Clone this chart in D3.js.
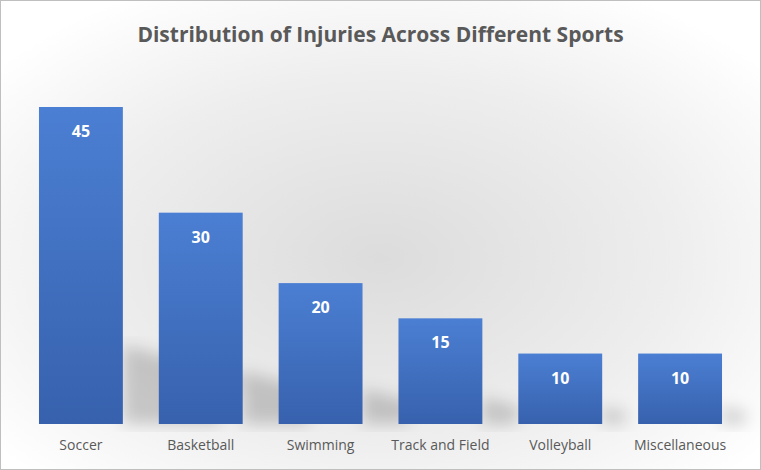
<!DOCTYPE html>
<html><head><meta charset="utf-8">
<script src="https://cdn.jsdelivr.net/npm/d3@7"></script>
<style>body{margin:0;background:#fff}svg{display:block}</style>
</head><body>
<script>
const categories = ["Soccer","Basketball","Swimming","Track and Field","Volleyball","Miscellaneous"];
const injuries = [45,30,20,15,10,10];
const title = "Distribution of Injuries Across Different Sports";

const W=761,H=470;
const svg=d3.select("body").append("svg").attr("width",W).attr("height",H);
const defs=svg.append("defs");
const bg=defs.append("radialGradient").attr("id","bg").attr("cx","50%").attr("cy","55%").attr("r","65%");
bg.append("stop").attr("offset","0%").attr("stop-color","#dcdcdc");
bg.append("stop").attr("offset","60%").attr("stop-color","#eeeeee");
bg.append("stop").attr("offset","100%").attr("stop-color","#ffffff");
const bar=defs.append("linearGradient").attr("id","bar").attr("x1",0).attr("y1",0).attr("x2",0).attr("y2",1);
bar.append("stop").attr("offset","0%").attr("stop-color","#4b7fd3");
bar.append("stop").attr("offset","100%").attr("stop-color","#3761ad");
defs.append("filter").attr("id","blur").append("feGaussianBlur").attr("stdDeviation",8);

svg.append("rect").attr("x",0.5).attr("y",0.5).attr("width",W-1).attr("height",H-1)
  .attr("fill","url(#bg)").attr("stroke","#bfbfbf");

svg.append("text").attr("x",W/2).attr("y",42).attr("text-anchor","middle")
  .attr("font-family","Open Sans, sans-serif").attr("font-weight","bold").attr("font-size",21)
  .attr("fill","#595959").text(title);

const x=d3.scaleBand().domain(categories).range([21,740]).paddingInner(0.3).paddingOuter(0.15);
const y=d3.scaleLinear().domain([0,45]).range([424,107]);

svg.append("g").attr("filter","url(#blur)").selectAll("path").data(injuries).join("path")
  .attr("d",(d,i)=>{const x0=x(categories[i])+x.bandwidth(),b=424,h=(424-y(d))*0.25;
    return `M${x0},${b} L${x0},${b-h} L${x0+h*1.5},${b-h*0.6} L${x0+h*1.2},${b} Z`;})
  .attr("fill","#000").attr("opacity",0.18);

svg.append("g").selectAll("rect").data(injuries).join("rect")
  .attr("x",(d,i)=>x(categories[i])).attr("y",d=>y(d))
  .attr("width",x.bandwidth()).attr("height",d=>y(0)-y(d)).attr("fill","url(#bar)");

svg.append("g").selectAll("text").data(injuries).join("text")
  .attr("x",(d,i)=>x(categories[i])+x.bandwidth()/2).attr("y",d=>y(d)+30)
  .attr("text-anchor","middle").attr("font-family","Open Sans, sans-serif").attr("font-weight","bold")
  .attr("font-size",16).attr("fill","#fff").text(d=>d);

const ax=svg.append("g").attr("transform","translate(0,424)").call(d3.axisBottom(x).tickSize(0).tickPadding(16));
ax.select(".domain").remove();
ax.selectAll("text").attr("font-family","Open Sans, sans-serif").attr("font-size",14).attr("fill","#595959");
</script>
</body></html>
